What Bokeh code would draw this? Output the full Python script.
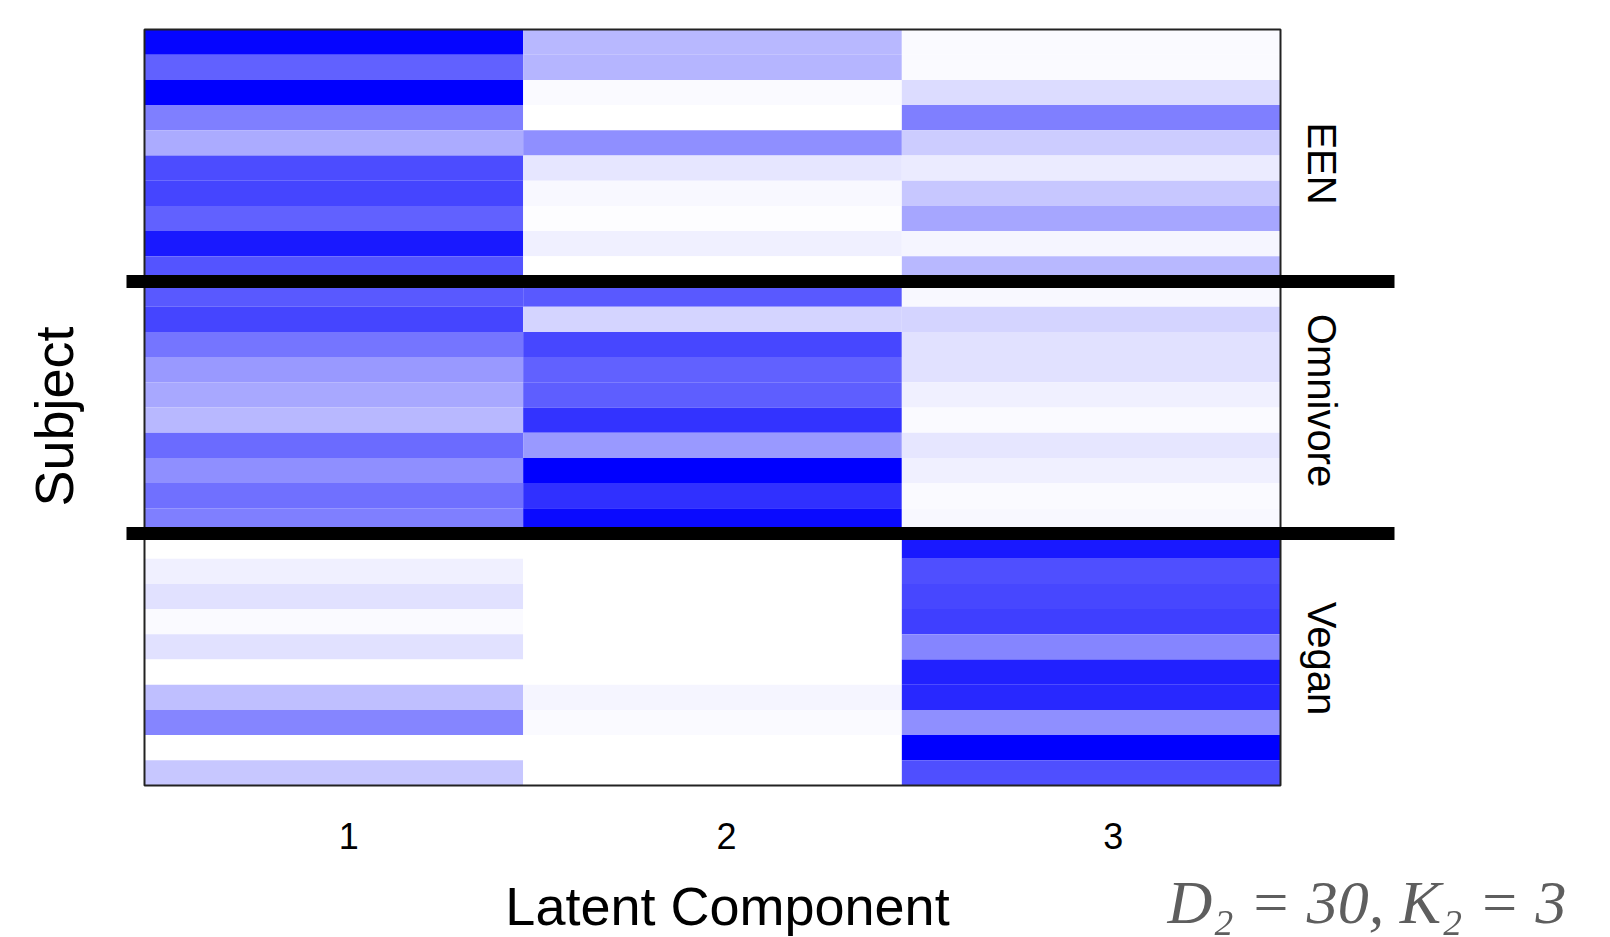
import math
from bokeh.plotting import figure
from bokeh.models import Range1d, LinearColorMapper, ColumnDataSource
from bokeh.embed import file_html
from bokeh.resources import INLINE
from bokeh.core.properties import value

# ---------------- data ----------------
components = [1, 2, 3]
tick_labels = ["1", "2", "3"]
groups = ["EEN", "Omnivore", "Vegan"]
group_size = 10

# loadings per subject (rows top to bottom), one list per latent component
comp1 = [0.98, 0.62, 1.00, 0.50, 0.33, 0.70, 0.73, 0.62, 0.90, 0.67,
         0.65, 0.73, 0.54, 0.40, 0.34, 0.28, 0.58, 0.44, 0.56, 0.50,
         0.00, 0.06, 0.12, 0.02, 0.12, 0.00, 0.25, 0.48, 0.00, 0.22]
comp2 = [0.28, 0.29, 0.02, 0.00, 0.44, 0.10, 0.03, 0.01, 0.06, 0.00,
         0.65, 0.17, 0.72, 0.62, 0.63, 0.80, 0.40, 1.00, 0.81, 0.96,
         0.00, 0.00, 0.00, 0.00, 0.00, 0.00, 0.04, 0.02, 0.00, 0.00]
comp3 = [0.02, 0.02, 0.14, 0.50, 0.20, 0.08, 0.22, 0.35, 0.04, 0.28,
         0.03, 0.17, 0.12, 0.12, 0.06, 0.02, 0.10, 0.06, 0.02, 0.03,
         0.90, 0.69, 0.72, 0.75, 0.48, 0.87, 0.84, 0.44, 1.00, 0.69]

x_title = "Latent Component"
y_title = "Subject"
annotation = "D\u2082 = 30, K\u2082 = 3"

# ---------------- layout (pixels) ----------------
W, H = 1610, 937
n_rows = len(comp1)
heat_left, heat_right, heat_top, heat_bottom = 144, 1280, 29, 785
line_left, line_right = 126, 1394
ppu = (heat_right - heat_left) / len(components)
row_px = (heat_bottom - heat_top) / n_rows


def px_x(px):
    return 0.5 + (px - heat_left) / ppu


def px_y(px):
    return (px - heat_top) / row_px


xs, ys, vals = [], [], []
for c, col in zip(components, [comp1, comp2, comp3]):
    for r, v in enumerate(col):
        xs.append(c)
        ys.append(r + 0.5)
        vals.append(v)
src = ColumnDataSource(dict(x=xs, y=ys, v=vals))

palette = ["#%02x%02xff" % (255 - i, 255 - i) for i in range(256)]
mapper = LinearColorMapper(palette=palette, low=0, high=1)

p = figure(frame_width=W, frame_height=H,
           x_range=Range1d(px_x(0), px_x(W)), y_range=Range1d(px_y(H), px_y(0)),
           min_border=0, x_axis_location=None, y_axis_location=None,
           output_backend="svg", toolbar_location=None)
p.outline_line_color = None
p.grid.visible = False
p.background_fill_color = "white"
p.border_fill_color = "white"

p.rect(x="x", y="y", width=1, height=1, source=src,
       fill_color={"field": "v", "transform": mapper}, line_color=None)

# heatmap border
p.quad(left=[0.5], right=[len(components) + 0.5], top=[0], bottom=[n_rows],
       fill_color=None, line_color="#222222", line_width=2)

# group separators
seps = [g * group_size for g in range(1, len(groups))]
p.segment(x0=[px_x(line_left)] * len(seps), x1=[px_x(line_right)] * len(seps),
          y0=seps, y1=seps, line_color="black", line_width=13, line_cap="butt")

# group labels on the right
p.text(x=[px_x(1321)] * len(groups),
       y=[g * group_size + group_size / 2 for g in range(len(groups))],
       text=groups, y_offset=[8, -7, -1], angle=-math.pi / 2,
       text_align="center", text_baseline="middle",
       text_font=value("Liberation Sans"), text_font_size="40px", text_color="black")

# x tick labels
p.text(x=components, y=[px_y(835)] * len(components), text=tick_labels,
       x_offset=[15, 14, 22], text_align="center", text_baseline="middle",
       text_font=value("Liberation Sans"), text_font_size="36px", text_color="black")

# axis titles
p.text(x=[sum(components) / len(components)], y=[px_y(905)], text=[x_title], x_offset=15,
       text_align="center", text_baseline="middle",
       text_font=value("Liberation Sans"), text_font_size="54px", text_color="black")
p.text(x=[px_x(53)], y=[n_rows / 2], text=[y_title], y_offset=9, angle=math.pi / 2,
       text_align="center", text_baseline="middle",
       text_font=value("Liberation Sans"), text_font_size="54px", text_color="black")

# annotation
p.text(x=[px_x(1566)], y=[px_y(901)], text=[annotation],
       text_align="right", text_baseline="middle",
       text_font=value("Liberation Serif"), text_font_style="italic",
       text_font_size="62px", text_color="#5e5e5e")

open("out.html", "w").write(file_html(p, INLINE))
